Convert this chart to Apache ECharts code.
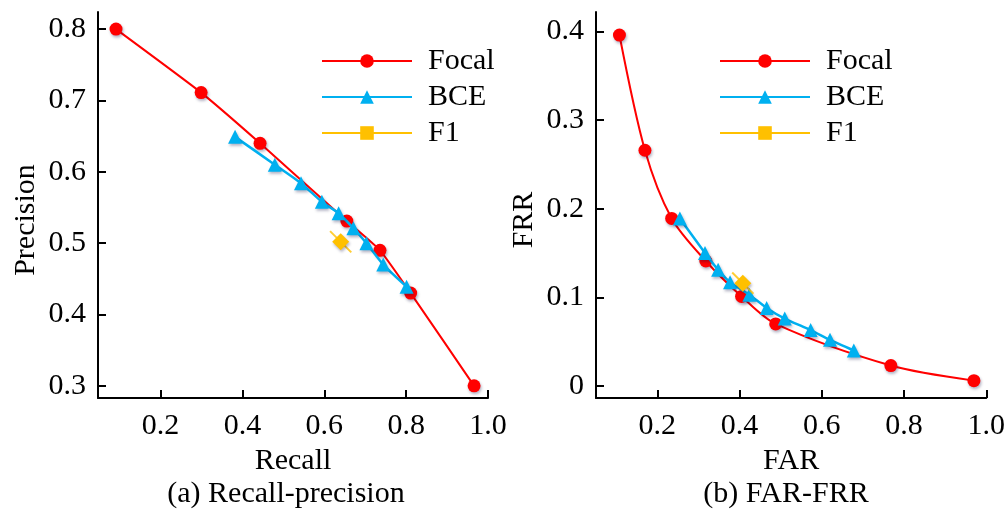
<!DOCTYPE html>
<html>
<head>
<meta charset="utf-8">
<script src="https://cdn.jsdelivr.net/npm/echarts@6/dist/echarts.min.js"></script>
<style>
html, body { margin: 0; padding: 0; background: #fff; }
#main { width: 1008px; height: 510px; }
</style>
</head>
<body>
<div id="main"></div>
<script>
// (a) recall-precision
var focalPR = [[0.091, 0.800], [0.299, 0.711], [0.443, 0.640], [0.655, 0.531], [0.736, 0.490], [0.811, 0.430], [0.966, 0.300]];
var bcePR = [[0.382, 0.649], [0.479, 0.610], [0.543, 0.584], [0.594, 0.558], [0.635, 0.542], [0.671, 0.521], [0.703, 0.500], [0.744, 0.470], [0.801, 0.439]];
var f1PR = [[0.640, 0.502]];
// (b) FAR-FRR
var focalFF = [[0.108, 0.396], [0.170, 0.266], [0.235, 0.189], [0.318, 0.141], [0.405, 0.101], [0.488, 0.070], [0.768, 0.023], [0.970, 0.006]];
var bceFF = [[0.255, 0.189], [0.316, 0.150], [0.348, 0.131], [0.377, 0.117], [0.424, 0.103], [0.466, 0.088], [0.510, 0.076], [0.573, 0.063], [0.620, 0.052], [0.678, 0.040]];
var f1FF = [[0.408, 0.116]];

var xTicks = [0.2, 0.4, 0.6, 0.8, 1.0];
var yTicksPR = [0.3, 0.4, 0.5, 0.6, 0.7, 0.8];
var yTicksFF = [0, 0.1, 0.2, 0.3, 0.4];
var seriesNames = ['Focal', 'BCE', 'F1'];

var FONT = 'Liberation Serif';
var FS = 30;
var RED = '#ff0000', BLUE = '#00b0f0', GOLD = '#ffc000';
var shadow = { shadowBlur: 3, shadowColor: 'rgba(0,0,60,0.3)', shadowOffsetX: 1, shadowOffsetY: 2 };

function fmt(v) { return v === 0 ? '0' : v.toFixed(1); }

function xAxisOf(idx, name) {
    return {
        type: 'value', gridIndex: idx, min: idx === 0 ? 0.047 : 0.051, max: 1.0,
        name: name, nameLocation: 'middle', nameGap: 45,
        nameTextStyle: { fontFamily: FONT, fontSize: FS, color: '#000' },
        axisLine: { show: true, onZero: false, lineStyle: { color: '#000', width: 2 } },
        axisTick: { show: true, inside: true, length: 8, lineStyle: { color: '#000', width: 2 }, customValues: xTicks },
        axisLabel: { fontFamily: FONT, fontSize: FS, color: '#000', margin: 13, customValues: xTicks, formatter: fmt },
        splitLine: { show: false }
    };
}

function yAxisOf(idx, name, min, max, ticks) {
    return {
        type: 'value', gridIndex: idx, min: min, max: max,
        name: name, nameLocation: 'middle', nameGap: 57, nameRotate: 90,
        nameTextStyle: { fontFamily: FONT, fontSize: FS, color: '#000', padding: [0, 30, 0, 0] },
        axisLine: { show: true, onZero: false, lineStyle: { color: '#000', width: 2 } },
        axisTick: { show: true, inside: true, length: 8, lineStyle: { color: '#000', width: 2 }, customValues: ticks },
        axisLabel: { fontFamily: FONT, fontSize: FS, color: '#000', margin: 12, customValues: ticks, formatter: fmt },
        splitLine: { show: false }
    };
}

function panelSeries(idx, focal, bce, f1, smoothness) {
    return [
        {
            name: 'Focal', type: 'line', xAxisIndex: idx, yAxisIndex: idx, data: focal,
            smooth: smoothness, symbol: 'circle', symbolSize: 13, z: 3,
            lineStyle: { color: RED, width: 2 },
            itemStyle: Object.assign({ color: RED }, shadow)
        },
        {
            name: 'BCE', type: 'line', xAxisIndex: idx, yAxisIndex: idx, data: bce,
            smooth: 0.2, symbol: 'triangle', symbolSize: 14, z: 4,
            lineStyle: { color: BLUE, width: 2.5 },
            itemStyle: Object.assign({ color: BLUE }, shadow)
        },
        {
            name: 'F1-tick', type: 'scatter', xAxisIndex: idx, yAxisIndex: idx, data: f1,
            symbol: 'rect', symbolSize: [30, 2], symbolRotate: -45, z: 5,
            itemStyle: { color: GOLD }
        },
        {
            name: 'F1', type: 'line', xAxisIndex: idx, yAxisIndex: idx, data: f1,
            symbol: 'rect', symbolSize: 12, symbolRotate: 45, z: 6,
            lineStyle: { color: GOLD, width: 2 },
            itemStyle: Object.assign({ color: GOLD }, shadow)
        }
    ];
}

function legendAt(left) {
    return {
        data: seriesNames, orient: 'vertical', left: left, top: 41,
        itemWidth: 90, itemHeight: 17, itemGap: 6, symbolRotate: 0,
        selectedMode: false,
        textStyle: { fontFamily: FONT, fontSize: FS, color: '#000', lineHeight: 29, padding: [0, 0, 0, 11] }
    };
}

var myChart = echarts.init(document.getElementById('main'), null, { renderer: 'canvas' });
var option = {
    animation: false,
    backgroundColor: '#fff',
    grid: [
        { left: 98, right: 520, top: 12, bottom: 112 },
        { left: 596, right: 21, top: 12, bottom: 112 }
    ],
    xAxis: [xAxisOf(0, 'Recall'), xAxisOf(1, 'FAR')],
    yAxis: [
        yAxisOf(0, 'Precision', 0.283, 0.824, yTicksPR),
        yAxisOf(1, 'FRR', -0.0136, 0.422, yTicksFF)
    ],
    legend: [legendAt(316), legendAt(714)],
    graphic: [
        { type: 'text', x: 286, y: 494, style: { text: '(a) Recall-precision', fontFamily: FONT, fontSize: FS, fill: '#000', align: 'center', verticalAlign: 'middle' } },
        { type: 'text', x: 786, y: 494, style: { text: '(b) FAR-FRR', fontFamily: FONT, fontSize: FS, fill: '#000', align: 'center', verticalAlign: 'middle' } }
    ],
    series: panelSeries(0, focalPR, bcePR, f1PR, 0.15).concat(panelSeries(1, focalFF, bceFF, f1FF, 0.3))
};
myChart.setOption(option);
</script>
</body>
</html>
